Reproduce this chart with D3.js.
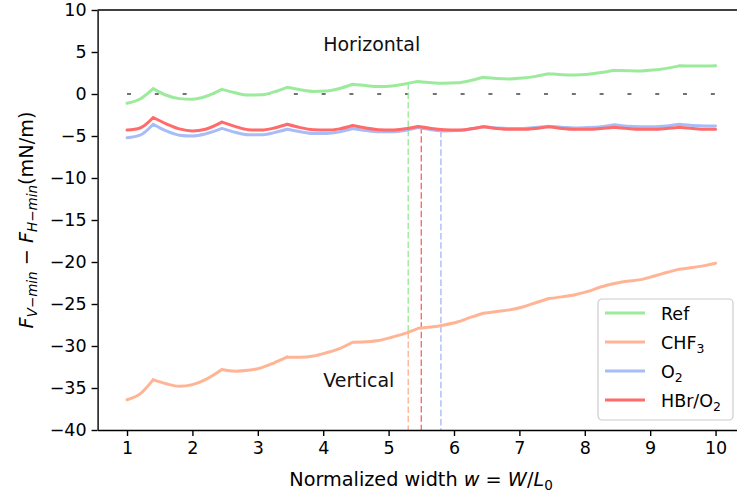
<!DOCTYPE html>
<html>
<head>
<meta charset="utf-8">
<script src="https://cdn.jsdelivr.net/npm/d3@7"></script>
<style>
  body { margin: 0; background: #fff; }
  svg { display: block; font-family: "DejaVu Sans", sans-serif; }
</style>
</head>
<body>
<div id="chart"></div>
<script>

// normalized width samples shared by all series
var widths = [1.0, 1.2, 1.4, 1.6, 1.8, 2.0, 2.2, 2.45, 2.65, 2.85, 3.05, 3.25, 3.45,
    3.65, 3.85, 4.05, 4.25, 4.45, 4.65, 4.85, 5.05, 5.25, 5.45, 5.65, 5.85, 6.05, 6.25, 6.45,
    6.65, 6.85, 7.05, 7.25, 7.45, 7.65, 7.85, 8.05, 8.25, 8.45, 8.65, 8.85, 9.05, 9.25, 9.45,
    9.65, 9.85, 10.0];

// widths where the curves have a kink
var cuspWidths = [1.4, 2.45, 3.45, 4.45, 5.45, 6.45, 7.45, 8.45, 9.45];

var refValues = [-1.1, -0.6, 0.64, -0.15, -0.55, -0.62, -0.3, 0.55, 0.15, -0.12, -0.1, 0.25, 0.8,
    0.5, 0.3, 0.35, 0.65, 1.16, 1.0, 0.88, 0.95, 1.2, 1.5, 1.35, 1.28, 1.33, 1.6, 2.0,
    1.85, 1.8, 1.9, 2.1, 2.4, 2.3, 2.27, 2.35, 2.55, 2.83, 2.78, 2.75, 2.85, 3.05, 3.35,
    3.32, 3.32, 3.35];

var chf3Values = [-36.4, -35.7, -34.0, -34.5, -34.8, -34.6, -34.0, -32.8, -33.0, -32.9, -32.6, -32.0, -31.3,
    -31.35, -31.2, -30.8, -30.3, -29.55, -29.5, -29.35, -28.95, -28.5, -27.9, -27.75, -27.5, -27.15, -26.6, -26.1,
    -25.9, -25.7, -25.35, -24.85, -24.35, -24.15, -23.9, -23.5, -22.95, -22.55, -22.3, -22.1, -21.7, -21.25, -20.85,
    -20.65, -20.4, -20.15];

var o2Values = [-5.2, -4.9, -3.6, -4.4, -4.9, -5.0, -4.75, -4.1, -4.55, -4.85, -4.85, -4.6, -4.2,
    -4.5, -4.7, -4.7, -4.5, -4.1, -4.35, -4.5, -4.5, -4.35, -4.0, -4.25, -4.4, -4.35, -4.2, -3.87,
    -4.05, -4.1, -4.1, -4.0, -3.85, -3.95, -4.05, -4.0, -3.9, -3.67, -3.85, -3.9, -3.9, -3.8, -3.6,
    -3.75, -3.8, -3.8];

var hbrValues = [-4.3, -4.05, -2.8, -3.55, -4.15, -4.4, -4.2, -3.35, -3.85, -4.25, -4.3, -4.05, -3.6,
    -4.0, -4.25, -4.3, -4.15, -3.75, -4.05, -4.25, -4.3, -4.15, -3.88, -4.1, -4.25, -4.3, -4.15, -3.9,
    -4.1, -4.2, -4.2, -4.1, -3.9, -4.1, -4.2, -4.2, -4.1, -3.95, -4.1, -4.2, -4.2, -4.1, -3.95,
    -4.1, -4.2, -4.2];

var seriesNames = ["Ref", "CHF3", "O2", "HBr/O2"];
var seriesColors = ["#9ceb9c", "#ffb595", "#a8bdf7", "#ff6a6a"];

// transition widths (vertical markers)
var markerWidths = [5.3, 5.5, 5.8];

var xTicks = [1, 2, 3, 4, 5, 6, 7, 8, 9, 10];
var yTicks = [10, 5, 0, -5, -10, -15, -20, -25, -30, -35, -40];

function drawChart(selector) {

    var width = 737, height = 494;

    var svg = d3.select(selector)
        .append("svg")
        .attr("width", width)
        .attr("height", height);

    var x = d3.scaleLinear()
        .domain([0.55, 10.45])
        .range([97.6, 745]);

    var y = d3.scaleLinear()
        .domain([-40, 10])
        .range([430, 10]);

    var series = [refValues, chf3Values, o2Values, hbrValues].map(function(vals, i) {
        return {
            name: seriesNames[i],
            color: seriesColors[i],
            points: widths.map(function(w, j) { return [w, vals[j]]; })
        };
    });

    // value of a series at some width
    function valueAt(vals, w) {
        var i = d3.bisectRight(widths, w) - 1;
        var t = (w - widths[i]) / (widths[i + 1] - widths[i]);
        return vals[i] + t * (vals[i + 1] - vals[i]);
    }

    // zero reference line
    svg.append("line")
        .attr("x1", x(1))
        .attr("x2", x(10.45))
        .attr("y1", y(0))
        .attr("y2", y(0))
        .attr("stroke", "#444")
        .attr("stroke-width", 1.3)
        .attr("stroke-dasharray", "4,23.8");

    // vertical dashed markers
    var vlines = [
        { w: markerWidths[0], top: valueAt(refValues, markerWidths[0]), bottom: valueAt(chf3Values, markerWidths[0]), color: seriesColors[0] },
        { w: markerWidths[0], top: valueAt(chf3Values, markerWidths[0]), bottom: -40, color: seriesColors[1] },
        { w: markerWidths[1], top: valueAt(hbrValues, markerWidths[1]), bottom: -40, color: seriesColors[3] },
        { w: markerWidths[2], top: valueAt(o2Values, markerWidths[2]), bottom: -40, color: seriesColors[2] }
    ];

    svg.selectAll(".vline")
        .data(vlines)
        .enter().append("line")
        .attr("class", "vline")
        .attr("x1", function(d) { return x(d.w); })
        .attr("x2", function(d) { return x(d.w); })
        .attr("y1", function(d) { return y(d.top); })
        .attr("y2", function(d) { return y(d.bottom); })
        .attr("stroke", function(d) { return d.color; })
        .attr("stroke-width", 1.4)
        .attr("stroke-dasharray", "6.5,2.8");

    var line = d3.line()
        .curve(d3.curveMonotoneX)
        .x(function(d) { return x(d[0]); })
        .y(function(d) { return y(d[1]); });

    // smooth between kinks, sharp at the kinks
    function segmentedPath(points) {
        var bounds = [1].concat(cuspWidths).concat([10]);
        var d = "";
        for (var k = 0; k < bounds.length - 1; k++) {
            var seg = points.filter(function(p) {
                return p[0] >= bounds[k] - 1e-9 && p[0] <= bounds[k + 1] + 1e-9;
            });
            d += line(seg);
        }
        return d;
    }

    svg.selectAll(".series")
        .data(series)
        .enter().append("path")
        .attr("class", "series")
        .attr("fill", "none")
        .attr("stroke", function(d) { return d.color; })
        .attr("stroke-width", 3)
        .attr("stroke-linejoin", "round")
        .attr("stroke-linecap", "round")
        .attr("d", function(d) { return segmentedPath(d.points); });

    // annotations
    svg.append("text")
        .attr("x", x(4))
        .attr("y", y(5.1))
        .attr("font-size", 19)
        .attr("fill", "#111")
        .text("Horizontal");

    svg.append("text")
        .attr("x", x(4))
        .attr("y", y(-34.9))
        .attr("font-size", 19)
        .attr("fill", "#111")
        .text("Vertical");

    // axes
    var xAxis = svg.append("g")
        .attr("transform", "translate(0," + y(-40) + ")")
        .call(d3.axisBottom(x).tickValues(xTicks).tickSize(6).tickPadding(6).tickSizeOuter(0));

    var yAxis = svg.append("g")
        .attr("transform", "translate(" + x(0.55) + ",0)")
        .call(d3.axisLeft(y).tickValues(yTicks).tickSize(6).tickPadding(5)
            .tickFormat(function(d) { return d < 0 ? "\u2212" + Math.abs(d) : d; })
            .tickSizeOuter(0));

    [xAxis, yAxis].forEach(function(g) {
        g.selectAll("path").attr("stroke", "#000").attr("stroke-width", 1.4);
        g.selectAll("line").attr("stroke", "#000").attr("stroke-width", 1.4);
        g.selectAll("text")
            .attr("font-size", 17.5)
            .attr("font-family", "DejaVu Sans")
            .attr("fill", "#000");
    });

    // top spine
    svg.append("line")
        .attr("x1", x(0.55))
        .attr("x2", x(10.45))
        .attr("y1", y(10))
        .attr("y2", y(10))
        .attr("stroke", "#000")
        .attr("stroke-width", 1.4);

    // x label
    var xl = svg.append("text")
        .attr("x", 421)
        .attr("y", 486)
        .attr("text-anchor", "middle")
        .attr("font-size", 19.25)
        .attr("fill", "#000");
    xl.append("tspan").text("Normalized width ");
    xl.append("tspan").attr("font-style", "italic").text("w");
    xl.append("tspan").text(" = ");
    xl.append("tspan").attr("font-style", "italic").text("W");
    xl.append("tspan").text("/");
    xl.append("tspan").attr("font-style", "italic").text("L");
    xl.append("tspan").attr("font-size", 13.5).attr("dy", 4).text("0");

    // y label
    var yl = svg.append("text")
        .attr("transform", "translate(33," + ((y(10) + y(-40)) / 2) + ") rotate(-90)")
        .attr("text-anchor", "middle")
        .attr("font-size", 19.25)
        .attr("fill", "#000");
    yl.append("tspan").attr("font-style", "italic").text("F");
    yl.append("tspan").attr("font-style", "italic").attr("font-size", 13.5).attr("dy", 4).text("V\u2212min");
    yl.append("tspan").attr("dy", -4).text(" \u2212 ");
    yl.append("tspan").attr("font-style", "italic").text("F");
    yl.append("tspan").attr("font-style", "italic").attr("font-size", 13.5).attr("dy", 4).text("H\u2212min");
    yl.append("tspan").attr("dy", -4).text("(mN/m)");

    // legend
    var legend = svg.append("g")
        .attr("transform", "translate(598,299)");

    legend.append("rect")
        .attr("width", 135)
        .attr("height", 121)
        .attr("rx", 4)
        .attr("fill", "#fff")
        .attr("fill-opacity", 0.8)
        .attr("stroke", "#cccccc")
        .attr("stroke-width", 1.2);

    var labelParts = [
        [["Ref", false]],
        [["CHF", false], ["3", true]],
        [["O", false], ["2", true]],
        [["HBr/O", false], ["2", true]]
    ];

    var rows = legend.selectAll(".entry")
        .data(series)
        .enter().append("g")
        .attr("class", "entry")
        .attr("transform", function(d, i) { return "translate(0," + (14 + i * 29) + ")"; });

    rows.append("line")
        .attr("x1", 7)
        .attr("x2", 47)
        .attr("stroke", function(d) { return d.color; })
        .attr("stroke-width", 3);

    rows.append("text")
        .attr("x", 63)
        .attr("y", 6.5)
        .attr("font-size", 17.5)
        .attr("fill", "#000")
        .each(function(d, i) {
            var t = d3.select(this);
            labelParts[i].forEach(function(p) {
                if (p[1]) {
                    t.append("tspan").attr("font-size", 12.5).attr("dy", 4).text(p[0]);
                } else {
                    t.append("tspan").text(p[0]);
                }
            });
        });
}

drawChart("#chart");
</script>
</body>
</html>
